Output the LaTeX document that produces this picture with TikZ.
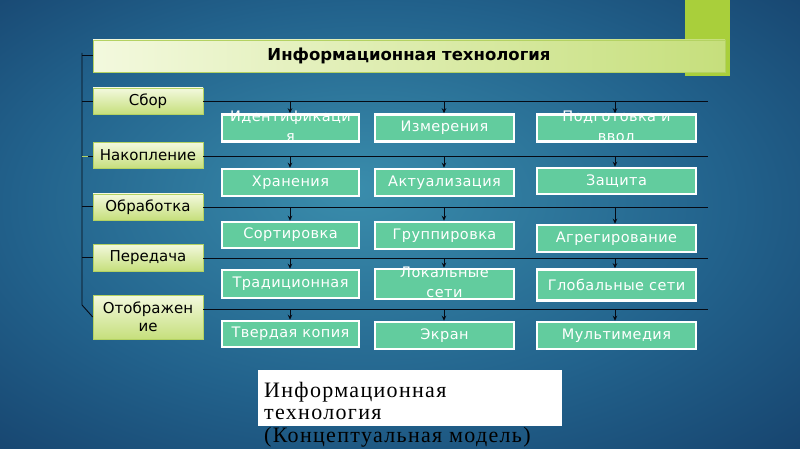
\documentclass[tikz,border=0pt]{standalone}
\usepackage{fontspec}
\setmainfont{DejaVu Sans}
\newfontfamily\serifru[LetterSpace=6]{Liberation Serif}
\newfontfamily\boxfont[LetterSpace=3]{DejaVu Sans}
\usetikzlibrary{arrows.meta}
\definecolor{bgin}{HTML}{3A8DAC}
\definecolor{bgmid}{HTML}{22628C}
\definecolor{bgout}{HTML}{0D2A55}
\definecolor{accent}{HTML}{A9CF3B}
\definecolor{lgtop}{HTML}{F3F9DE}
\definecolor{lgbot}{HTML}{C6DF7C}
\definecolor{lgedge}{HTML}{B4D262}
\definecolor{teal}{HTML}{62CC9E}
\definecolor{linec}{HTML}{050A14}
\pgfdeclareradialshading{bgshade}{\pgfpoint{-3bp}{4bp}}{color(0bp)=(bgin); color(22bp)=(bgmid); color(50bp)=(bgout)}
\newcommand{\twoline}[2]{\raisebox{-3pt}[0pt][0pt]{\renewcommand\arraystretch{1.18}\begin{tabular}{@{}c@{}}#1\\#2\end{tabular}}}
\begin{document}
\begin{tikzpicture}[x=1pt,y=-1pt,
  titlebox/.style={left color=lgtop, right color=lgbot, draw=lgedge, line width=0.6pt,
    minimum width=632pt, minimum height=32pt, inner sep=0pt, font=\fontsize{16.5}{19}\selectfont\bfseries, text=black},
  lbox/.style={top color=lgtop, bottom color=lgbot, draw=lgedge, line width=0.6pt,
    minimum width=110pt, inner sep=0pt, font=\fontsize{15}{17.5}\selectfont, text=black, align=center},
  tbox/.style={fill=teal, draw=white, line width=2.5pt, inner sep=0pt,
    font=\boxfont\fontsize{14.5}{16.5}\selectfont, text=white},
  conn/.style={draw=linec, line width=0.9pt},
  arr/.style={draw=linec, line width=0.9pt, -{Stealth[length=5pt,width=4.5pt]}},
]
\useasboundingbox (0,0) rectangle (800,449);
\shade[shading=bgshade] (0,0) rectangle (800,449);

% accent bar
\fill[accent] (685,0) rectangle (730,76);

% title
\node[titlebox] (title) at (409,56) {Информационная технология};

% left boxes
\node[lbox, minimum height=26pt] (sbor) at (148,101) {Сбор};
\node[lbox, minimum height=26pt] (nak) at (148,155.5) {Накопление};
\node[lbox, minimum height=26pt] (obr) at (148,207) {Обработка};
\node[lbox, minimum height=27pt] (per) at (148,257.5) {Передача};
\node[lbox, minimum height=44pt] (otb) at (148,317) {Отображен\\ие};

% left spine
\coordinate (s0) at (82,53);
\coordinate (s1) at (82,305);
\coordinate (tt) at (82,55);
\coordinate (t1) at (82,101);
\coordinate (t2) at (82,156);
\coordinate (t3) at (82,206);
\coordinate (t4) at (82,257);
\draw[conn] (s0) -- (s1) -- (otb.west |- 0,317);
\draw[conn] (tt) -- (title.west |- tt);
\draw[conn] (t1) -- (sbor.west |- t1);
\draw[draw=lgedge, line width=0.9pt] (t2) -- ++(6,0);
\draw[conn] (t2) ++(6,0) -- (nak.west |- t2);
\draw[conn] (t3) -- (obr.west |- t3);
\draw[conn] (t4) -- (per.west |- t4);

% horizontal lines
\coordinate (e1) at (708,101);
\coordinate (e2) at (708,156.5);
\coordinate (e3) at (708,207);
\coordinate (e4) at (708,258);
\coordinate (e5) at (708,309);
\draw[conn] (sbor.east |- e1) -- (e1);
\draw[conn] (nak.east |- e2) -- (e2);
\draw[conn] (obr.east |- e3) -- (e3);
\draw[conn] (per.east |- e4) -- (e4);
\draw[conn] (otb.east |- e5) -- (e5);

% teal boxes
\node[tbox, minimum width=137pt, minimum height=27pt] (a1) at (290.5,128) {\twoline{Идентификаци}{я}};
\node[tbox, minimum width=139pt, minimum height=27pt] (a2) at (444.5,128) {Измерения};
\node[tbox, minimum width=159pt, minimum height=27pt] (a3) at (616.5,128) {\twoline{Подготовка и}{ввод}};

\node[tbox, minimum width=137pt, minimum height=27pt] (b1) at (290.5,182.5) {Хранения};
\node[tbox, minimum width=139pt, minimum height=27pt] (b2) at (444.5,182.5) {Актуализация};
\node[tbox, minimum width=159pt, minimum height=26pt] (b3) at (616.5,181) {Защита};

\node[tbox, minimum width=137pt, minimum height=26pt] (c1) at (290.5,235) {Сортировка};
\node[tbox, minimum width=139pt, minimum height=27pt] (c2) at (444.5,235.5) {Группировка};
\node[tbox, minimum width=159pt, minimum height=27pt] (c3) at (616.5,238.5) {Агрегирование};

\node[tbox, minimum width=137pt, minimum height=28pt] (d1) at (290.5,284) {Традиционная};
\node[tbox, minimum width=139pt, minimum height=30pt] (d2) at (444.5,284) {\twoline{Локальные}{сети}};
\node[tbox, minimum width=159pt, minimum height=31pt] (d3) at (616.5,285) {Глобальные сети};

\node[tbox, minimum width=137pt, minimum height=26pt] (f1) at (290.5,334) {Твердая копия};
\node[tbox, minimum width=139pt, minimum height=27pt] (f2) at (444.5,335.5) {Экран};
\node[tbox, minimum width=159pt, minimum height=27pt] (f3) at (616.5,335.5) {Мультимедия};

% arrows
\foreach \r/\e in {a/e1,b/e2,c/e3,d/e4,f/e5}{
  \draw[arr] (290,0 |- \e) -- (290,0 |- \r1.north);
  \draw[arr] (444,0 |- \e) -- (444,0 |- \r2.north);
  \draw[arr] (615,0 |- \e) -- (615,0 |- \r3.north);
}

% bottom caption
\node[fill=white, minimum width=304pt, minimum height=56pt, inner sep=0pt, anchor=north west] (cap) at (258,370) {};
\node[anchor=north west, align=left, inner sep=0pt, text=black,
  font=\serifru\fontsize{22}{22.5}\selectfont] (captext) at (264,382) {Информационная\\технология\\(Концептуальная модель)};
\end{tikzpicture}
\end{document}
